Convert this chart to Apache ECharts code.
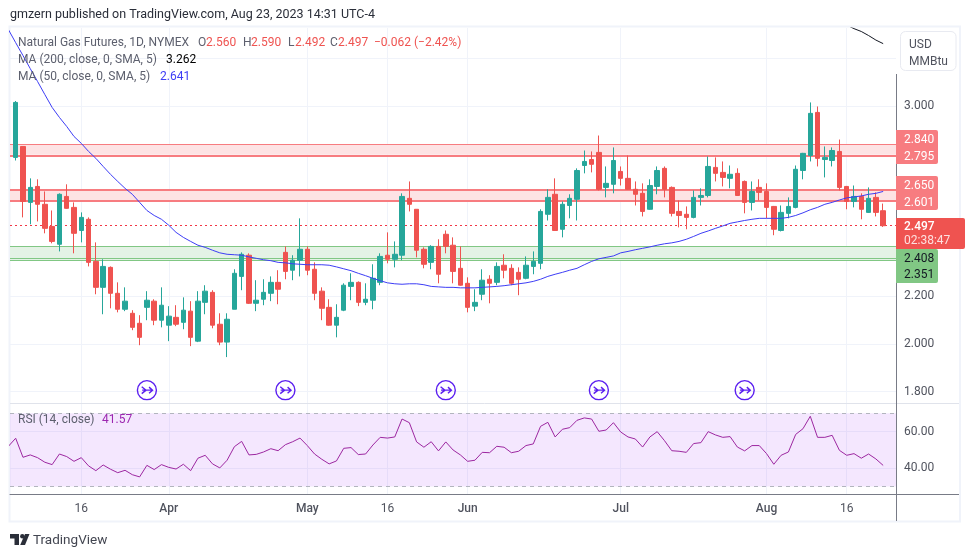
<!DOCTYPE html>
<html><head><meta charset="utf-8">
<style>html,body{margin:0;padding:0;background:#fff}#c{width:970px;height:557px}</style>
<script src="https://cdn.jsdelivr.net/npm/echarts@6/dist/echarts.min.js"></script>
</head><body><div id="c"></div>
<script>
const opens=[2.784,2.830,2.595,2.662,2.587,2.494,2.419,2.620,2.574,2.477,2.524,2.347,2.238,2.322,2.213,2.146,2.129,2.087,2.154,2.180,
2.100,2.079,2.112,2.091,2.138,2.012,2.175,2.217,2.083,2.008,2.146,2.284,2.373,2.171,2.188,2.213,2.259,2.385,2.310,2.352,
2.398,2.314,2.222,2.154,2.079,2.142,2.242,2.259,2.175,2.184,2.259,2.373,2.356,2.373,2.612,2.566,2.398,2.343,2.410,2.461,
2.415,2.318,2.255,2.159,2.209,2.272,2.259,2.331,2.318,2.301,2.276,2.326,2.339,2.545,2.629,2.482,2.582,2.608,2.750,2.775,
2.805,2.658,2.671,2.725,2.696,2.650,2.633,2.566,2.662,2.738,2.658,2.557,2.545,2.532,2.616,2.624,2.742,2.721,2.696,2.717,
2.683,2.595,2.658,2.641,2.578,2.477,2.549,2.574,2.729,2.792,2.973,2.775,2.771,2.809,2.662,2.599,2.620,2.553,2.616,2.560];
const highs=[3.021,2.830,2.696,2.692,2.641,2.561,2.633,2.671,2.595,2.553,2.532,2.427,2.356,2.326,2.259,2.238,2.142,2.121,2.222,2.188,
2.238,2.159,2.163,2.196,2.180,2.222,2.247,2.226,2.129,2.129,2.314,2.385,2.381,2.268,2.272,2.284,2.310,2.410,2.373,2.528,
2.410,2.343,2.238,2.188,2.167,2.255,2.297,2.263,2.255,2.335,2.381,2.469,2.431,2.633,2.683,2.566,2.406,2.415,2.440,2.477,
2.448,2.410,2.280,2.230,2.314,2.289,2.343,2.377,2.335,2.322,2.368,2.389,2.566,2.650,2.696,2.599,2.629,2.738,2.813,2.809,
2.876,2.746,2.826,2.746,2.792,2.683,2.675,2.692,2.746,2.746,2.662,2.603,2.578,2.645,2.654,2.788,2.784,2.767,2.750,2.738,
2.687,2.683,2.692,2.675,2.580,2.582,2.616,2.750,2.803,3.015,2.998,2.830,2.826,2.859,2.664,2.666,2.633,2.658,2.637,2.590];
const lows=[2.771,2.532,2.503,2.515,2.465,2.423,2.389,2.568,2.381,2.427,2.326,2.209,2.125,2.150,2.133,2.138,2.058,1.995,2.100,2.079,
2.070,2.012,2.075,2.062,1.991,2.008,2.125,2.066,1.995,1.945,2.146,2.226,2.168,2.138,2.163,2.180,2.167,2.272,2.268,2.284,
2.289,2.184,2.100,2.077,2.028,2.138,2.184,2.159,2.163,2.146,2.247,2.339,2.322,2.352,2.557,2.364,2.318,2.314,2.255,2.381,
2.255,2.245,2.133,2.138,2.184,2.171,2.247,2.276,2.247,2.205,2.272,2.293,2.314,2.519,2.475,2.448,2.528,2.519,2.717,2.721,
2.645,2.616,2.633,2.666,2.648,2.582,2.536,2.564,2.629,2.616,2.536,2.490,2.482,2.528,2.582,2.616,2.683,2.662,2.654,2.622,
2.549,2.561,2.603,2.528,2.457,2.473,2.528,2.570,2.692,2.767,2.746,2.700,2.746,2.645,2.566,2.574,2.524,2.551,2.536,2.492];
const closes=[3.015,2.599,2.658,2.587,2.486,2.431,2.629,2.570,2.465,2.532,2.343,2.238,2.326,2.213,2.146,2.180,2.070,2.028,2.184,2.100,
2.163,2.117,2.083,2.142,2.028,2.180,2.222,2.079,2.008,2.104,2.297,2.377,2.171,2.184,2.217,2.259,2.230,2.305,2.352,2.398,
2.310,2.213,2.150,2.079,2.112,2.247,2.259,2.175,2.188,2.276,2.368,2.356,2.377,2.620,2.587,2.394,2.335,2.410,2.293,2.410,
2.305,2.247,2.154,2.175,2.268,2.255,2.326,2.310,2.255,2.272,2.331,2.347,2.557,2.616,2.477,2.587,2.612,2.729,2.767,2.755,
2.650,2.675,2.771,2.696,2.650,2.629,2.557,2.666,2.729,2.650,2.549,2.540,2.532,2.616,2.624,2.746,2.717,2.700,2.713,2.624,
2.595,2.641,2.637,2.574,2.482,2.553,2.578,2.734,2.801,2.969,2.780,2.784,2.813,2.658,2.599,2.620,2.566,2.612,2.553,2.497];
const ma50=[3.266,3.212,3.157,3.103,3.048,2.994,2.952,2.914,2.872,2.843,2.809,2.780,2.746,2.713,2.683,2.654,2.629,2.595,2.561,2.540,
2.524,2.499,2.469,2.448,2.431,2.415,2.406,2.394,2.383,2.377,2.375,2.373,2.366,2.360,2.354,2.350,2.343,2.341,2.337,2.335,
2.333,2.333,2.333,2.331,2.324,2.316,2.308,2.297,2.287,2.276,2.266,2.257,2.253,2.251,2.253,2.253,2.249,2.242,2.240,2.238,
2.238,2.236,2.236,2.236,2.238,2.240,2.242,2.245,2.249,2.253,2.257,2.263,2.272,2.284,2.293,2.301,2.310,2.318,2.333,2.347,
2.358,2.364,2.370,2.383,2.389,2.396,2.402,2.408,2.415,2.421,2.425,2.431,2.440,2.452,2.465,2.475,2.486,2.496,2.507,2.513,
2.519,2.524,2.528,2.528,2.528,2.528,2.532,2.540,2.551,2.564,2.574,2.587,2.595,2.605,2.614,2.618,2.622,2.629,2.633,2.641];
const ma50BeforeFirst=3.321;
const ma200Tail=[3.340,3.325,3.313,3.296,3.277,3.262];
const rsi=[56.4,46,47.3,45.8,43.3,42,47.8,46.4,43.8,45.8,41.3,38.7,41.8,39.5,37.6,38.9,36.5,35.3,41.6,39.3,
42,40.5,39.6,42.2,38.7,45.5,47.1,42.4,40.2,44.4,51.8,54.7,47.3,47.6,48.9,50.7,49.6,52.9,54.5,56.5,
52.4,47.8,44.9,42.4,44,50.9,51.3,47.5,47.8,52.7,56.9,56.5,57.1,66.9,64.9,54.4,51.5,54.5,49.5,54.4,
50,47.3,43.8,44.4,48.7,48.5,52,51.5,48.5,49.3,52.4,53.3,62.9,65.1,57.1,61.3,62.2,66.2,67.5,66.9,
60.2,60.9,64.9,59.8,57.1,56,51.6,57.1,60,55.1,49.6,49.3,48.7,53.5,54,60,58.2,56.9,57.3,51.6,
49.5,52.4,52.4,48,42.2,47.1,48.9,58.5,61.6,68.4,56.9,56.9,58,49.8,47.1,48,45.5,47.8,45.1,41.57];
const rsiBeforeFirst=52;
const tickBars=[9,21,40,51,62,83,103,114];
const tickLabels=['16','Apr','May','16','Jun','Jul','Aug','16'];
const priceGrid=[1.8,2.0,2.2,2.4,2.6,2.8,3.0,3.2];
const priceLabels=[1.8,2.0,2.2,3.0];
const rsiLabels=[40,60];
const eventBars=[18,37,59,80,100];
const eventLevel=1.806;
const redZones=[[2.84,2.795],[2.65,2.601]];
const greenZone=[2.408,2.351];
const lastPrice=2.497;

const UP='#26a69a',DOWN='#ef5350',GRID='#f0f3fa',TXT='#50535e',SANS='Roboto,"Noto Sans",sans-serif';
const xFrom=-0.78,xTo=120.76;
const candleData=opens.map((o,i)=>[i,o,closes[i],lows[i],highs[i]]);
const tickName={};tickBars.forEach((b,i)=>tickName[b]=tickLabels[i]);
const mkX=(gi,show)=>({type:'value',gridIndex:gi,min:xFrom,max:xTo,
  axisLine:{show:show,onZero:false,lineStyle:{color:'#787b86',width:1}},
  axisTick:{show:false,customValues:tickBars},
  splitLine:{show:true,lineStyle:{color:GRID,width:1}},
  axisLabel:{show:show,customValues:tickBars,margin:9,fontFamily:SANS,fontSize:12,color:TXT,
    hideOverlap:false,showMinLabel:true,showMaxLabel:true,
    rich:{m:{fontFamily:SANS,fontSize:12,color:TXT,fontWeight:500}},
    formatter:v=>{const s=tickName[Math.round(v)]||'';return /\d/.test(s)?s:'{m|'+s+'}';}}});
const mkY=(gi,min,max,ticks,labels,digits)=>({type:'value',gridIndex:gi,position:'right',min:min,max:max,
  axisLine:{show:false,onZero:false},
  axisTick:{show:false,customValues:ticks},
  splitLine:{show:true,lineStyle:{color:GRID,width:1}},
  axisLabel:{customValues:labels,margin:8,padding:[3,0,0,0],fontFamily:SANS,fontSize:12,color:TXT,formatter:v=>v.toFixed(digits)}});

const zoneAreas=redZones.map(z=>[{yAxis:z[0],itemStyle:{color:'#fde3e4'}},{yAxis:z[1]}]);
zoneAreas.push([{yAxis:greenZone[0],itemStyle:{color:'#e4f2e5'}},{yAxis:greenZone[1]}]);
const RL='#f77c80',GL='#81c784';
const zoneLines=[
 {yAxis:2.84,lineStyle:{color:RL,width:1,type:'solid'}},
 {yAxis:2.795,lineStyle:{color:RL,width:2,type:'solid'}},
 {yAxis:2.65,lineStyle:{color:RL,width:2,type:'solid'}},
 {yAxis:2.601,lineStyle:{color:RL,width:2,type:'solid'}},
 {yAxis:2.408,lineStyle:{color:GL,width:1,type:'solid'}},
 {yAxis:2.358,lineStyle:{color:GL,width:1,type:'solid'}},
 {yAxis:2.351,lineStyle:{color:GL,width:1,type:'solid'}},
 {yAxis:lastPrice,lineStyle:{color:'#f23645',width:1,type:[2,3]}}];

const icon='path://M12 1a11 11 0 1 0 0 22a11 11 0 1 0 0-22z M6 16L11 12L6 8 M6.5 12H18 M14.5 8.5L18.5 12L14.5 15.5';
const T=(text,x,y,fill,extra)=>Object.assign({type:'text',z:100,silent:true,x:x,y:y+1,
  style:Object.assign({text:text,fill:fill,fontFamily:SANS,fontSize:12,verticalAlign:'middle',align:'left'},extra||{})},{});
const R=(x,y,w,h,fill,r)=>({type:'rect',z:90,silent:true,shape:{x:x,y:y,width:w,height:h,r:r||[0,2,2,0]},style:{fill:fill}});
const RED='#ef5350',LAB='#5d606e';
const graphicEls=[
 {type:'rect',z:0,silent:true,shape:{x:9.5,y:26.5,width:950.5,height:495},style:{fill:'none',stroke:GRID,lineWidth:2}},
 {type:'line',z:80,silent:true,shape:{x1:10,y1:403.5,x2:959,y2:403.5},style:{stroke:'#e0e3eb',lineWidth:1}},
 {type:'line',z:80,silent:true,shape:{x1:896,y1:494.5,x2:959,y2:494.5},style:{stroke:'#787b86',lineWidth:1}},
 {type:'line',z:85,silent:true,shape:{x1:896.5,y1:74,x2:896.5,y2:521},style:{stroke:'#787b86',lineWidth:1}},
 {type:'rect',z:90,silent:true,shape:{x:900.5,y:31.5,width:55.5,height:39,r:5},style:{fill:'#fff',stroke:'#e8eaf1',lineWidth:1}},
 T('USD',909,44,TXT),T('MMBtu',909,61,TXT),
 T('gmzern published on TradingView.com, Aug 23, 2023 14:31 UTC-4',10,14,'#2a2e39',{fontSize:12.5}),
 T('Natural Gas Futures, 1D, NYMEX',18,42,LAB),
 T('O',198,42,LAB),T('2.560',206,42,RED),
 T('H',243,42,LAB),T('2.590',251,42,RED),
 T('L',288,42,LAB),T('2.492',295,42,RED),
 T('C',330,42,LAB),T('2.497',338,42,RED),
 T('\u22120.062 (\u22122.42%)',374,42,RED),
 T('MA (200, close, 0, SMA, 5)',18,59,LAB),T('3.262',166,59,'#000'),
 T('MA (50, close, 0, SMA, 5)',18,76,LAB),T('2.641',160,76,'#3d3df5'),
 T('RSI (14, close)',18,419,LAB),T('41.57',102,419,'#9c27b0'),
 R(896,130,42,34,RL),T('2.840',904,139,'#fff'),T('2.795',904,156,'#fff'),
 R(896,176,42,34,RL),T('2.650',904,185,'#fff'),T('2.601',904,202,'#fff'),
 R(896,218,69,31,RED),T('2.497',904,226,'#fff',{fontWeight:500}),T('02:38:47',904,240,'#fde0df'),
 R(896,249,42,34,GL),T('2.408',904,258,'#131722'),T('2.351',904,274,'#131722'),
 {type:'polygon',z:100,silent:true,shape:{points:[[10,534],[19,534],[19,545],[14.5,545],[14.5,538.5],[10,538.5]]},style:{fill:'#2a2e39'}},
 {type:'circle',z:100,silent:true,shape:{cx:22.3,cy:536.2,r:2.2},style:{fill:'#2a2e39'}},
 {type:'polygon',z:100,silent:true,shape:{points:[[25,534],[29.5,534],[25,545],[20.2,545]]},style:{fill:'#2a2e39'}},
 T('TradingView',33,540,'#434651',{fontSize:13.5})
];

const chart=echarts.init(document.getElementById('c'),null,{renderer:'canvas'});
chart.setOption({
 animation:false,backgroundColor:'#fff',
 grid:[{left:10,right:74,top:28,height:375},{left:10,right:74,top:404,height:90}],
 xAxis:[mkX(0,false),mkX(1,true)],
 yAxis:[mkY(0,1.7521,3.3277,priceGrid,priceLabels,3),mkY(1,25.96,75.1,rsiLabels,rsiLabels,2)],
 graphic:graphicEls,
 series:[
  {name:'Natural Gas Futures',type:'candlestick',xAxisIndex:0,yAxisIndex:0,data:candleData,barWidth:5,z:2,
   encode:{x:0,y:[1,2,3,4]},
   itemStyle:{color:UP,color0:DOWN,borderColor:UP,borderColor0:DOWN,borderWidth:1},
   markArea:{silent:true,z:1,data:zoneAreas},
   markLine:{silent:true,z:1,symbol:'none',label:{show:false},data:zoneLines}},
  {name:'MA 50',type:'line',xAxisIndex:0,yAxisIndex:0,showSymbol:false,z:3,
   data:[[-1,ma50BeforeFirst]].concat(ma50.map((v,i)=>[i,v])),lineStyle:{color:'#3d3df5',width:1}},
  {name:'MA 200',type:'line',xAxisIndex:0,yAxisIndex:0,showSymbol:false,z:3,
   data:ma200Tail.map((v,i)=>[114+i,v]),lineStyle:{color:'#131722',width:1}},
  {name:'Events',type:'scatter',xAxisIndex:0,yAxisIndex:0,symbol:icon,symbolSize:19,z:4,
   data:eventBars.map(b=>[b,eventLevel]),itemStyle:{color:'rgba(255,255,255,0)',borderColor:'#5b1ff0',borderWidth:1.4,opacity:1}},
  {name:'RSI',type:'line',xAxisIndex:1,yAxisIndex:1,showSymbol:false,z:3,
   data:[[-1,rsiBeforeFirst]].concat(rsi.map((v,i)=>[i,v])),lineStyle:{color:'#9c27a0',width:1},
   markArea:{silent:true,z:1,data:[[{yAxis:70,itemStyle:{color:'rgba(156,39,245,0.11)'}},{yAxis:30}]]},
   markLine:{silent:true,z:1,symbol:'none',label:{show:false},lineStyle:{color:'#b2b5be',width:1,type:[4,4]},data:[{yAxis:70},{yAxis:30}]}}
 ]
});
</script></body></html>
